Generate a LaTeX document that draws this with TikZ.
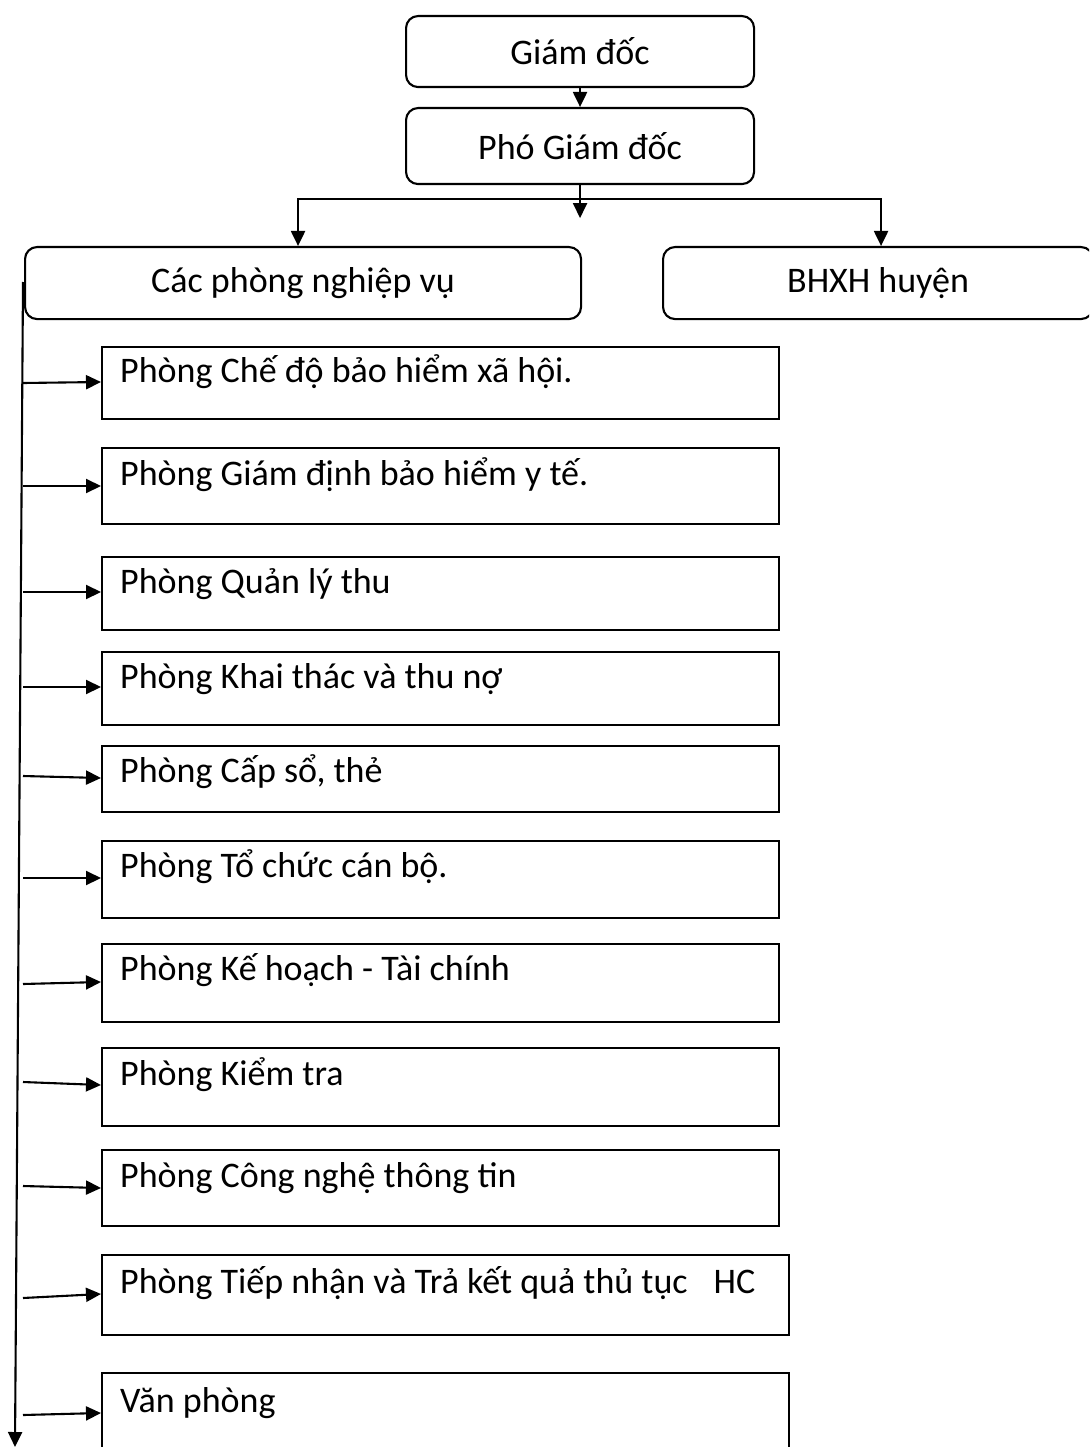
\documentclass[tikz,border=0pt]{standalone}
\usepackage{fontspec}
\setmainfont{Carlito}
\usetikzlibrary{arrows.meta,calc}
\begin{document}
\begin{tikzpicture}[x=1pt,y=-1pt,
  lw/.style={line width=2.1pt},
  arr/.style={lw,-{Triangle[length=15pt,width=14pt]}},
  topbox/.style={draw,lw,rounded corners=12pt,anchor=north west,inner sep=0pt,font=\fontsize{36}{43}\selectfont},
  unit/.style={draw,lw,anchor=north west,inner sep=0pt},
  unitlabel/.style={anchor=base west,inner sep=0pt,font=\fontsize{36}{43}\selectfont},
]
\useasboundingbox (0,0) rectangle (1089,1447);
\clip (0,0) rectangle (1089,1447);
\node[topbox,minimum width=348pt,minimum height=71pt] (gd) at (405,15) {Giám đốc};
\node[topbox,minimum width=348pt,minimum height=76pt] (pgd) at (405,107) {Phó Giám đốc};
\node[topbox,minimum width=556pt,minimum height=72pt] (cpn) at (24,246) {Các phòng nghiệp vụ};
\node[topbox,minimum width=430pt,minimum height=72pt] (bh) at (662,246) {BHXH huyện};
\draw[arr] (gd.south) -- (pgd.north);
\coordinate (j) at (580,199);
\draw[arr] (pgd.south) -- ++(0,33);
\draw[arr] (j) -| ([xshift=-5pt]cpn.north);
\draw[arr] (j) -| ([xshift=3pt]bh.north);
% vertical bus
\coordinate (vtop) at (23,282);
\coordinate (vbot) at (15,1447);
\draw[arr] (vtop) -- (vbot);
% unit boxes
\foreach \n/\y/\h/\b/\w/\t in {
 1/346/72/36/677/{Phòng Chế độ bảo hiểm xã hội.},
 2/447/76/38/677/{Phòng Giám định bảo hiểm y tế.},
 3/556/73/37/677/{Phòng Quản lý thu},
 4/651/73/37/677/{Phòng Khai thác và thu nợ},
 5/745/66/37/677/{Phòng Cấp sổ, thẻ},
 6/840/77/37/677/{Phòng Tổ chức cán bộ.},
 7/943/78/37/677/{Phòng Kế hoạch - Tài chính},
 8/1047/78/38/677/{Phòng Kiểm tra},
 9/1149/76/38/677/{Phòng Công nghệ thông tin},
 10/1254/80/39/687/{Phòng Tiếp nhận và Trả kết quả thủ tục\hspace{26pt}HC},
 11/1372/100/40/687/{Văn phòng}}{
 \node[unit,minimum width=\w pt,minimum height=\h pt] (u\n) at (101,\y) {};
 \node[unitlabel] (t\n) at ($(u\n.north west)+(19,\b)$) {\t};
}
\foreach \n/\ya/\yb in {1/383/382,2/486/486,3/592/592,4/687/687,5/776/778,6/878/878,7/984/982,8/1082/1085,9/1186/1188,10/1298/1294,11/1415/1413}{
 \draw[arr] (23,\ya) -- (u\n.north west |- 0,\yb);
}
\end{tikzpicture}
\end{document}
